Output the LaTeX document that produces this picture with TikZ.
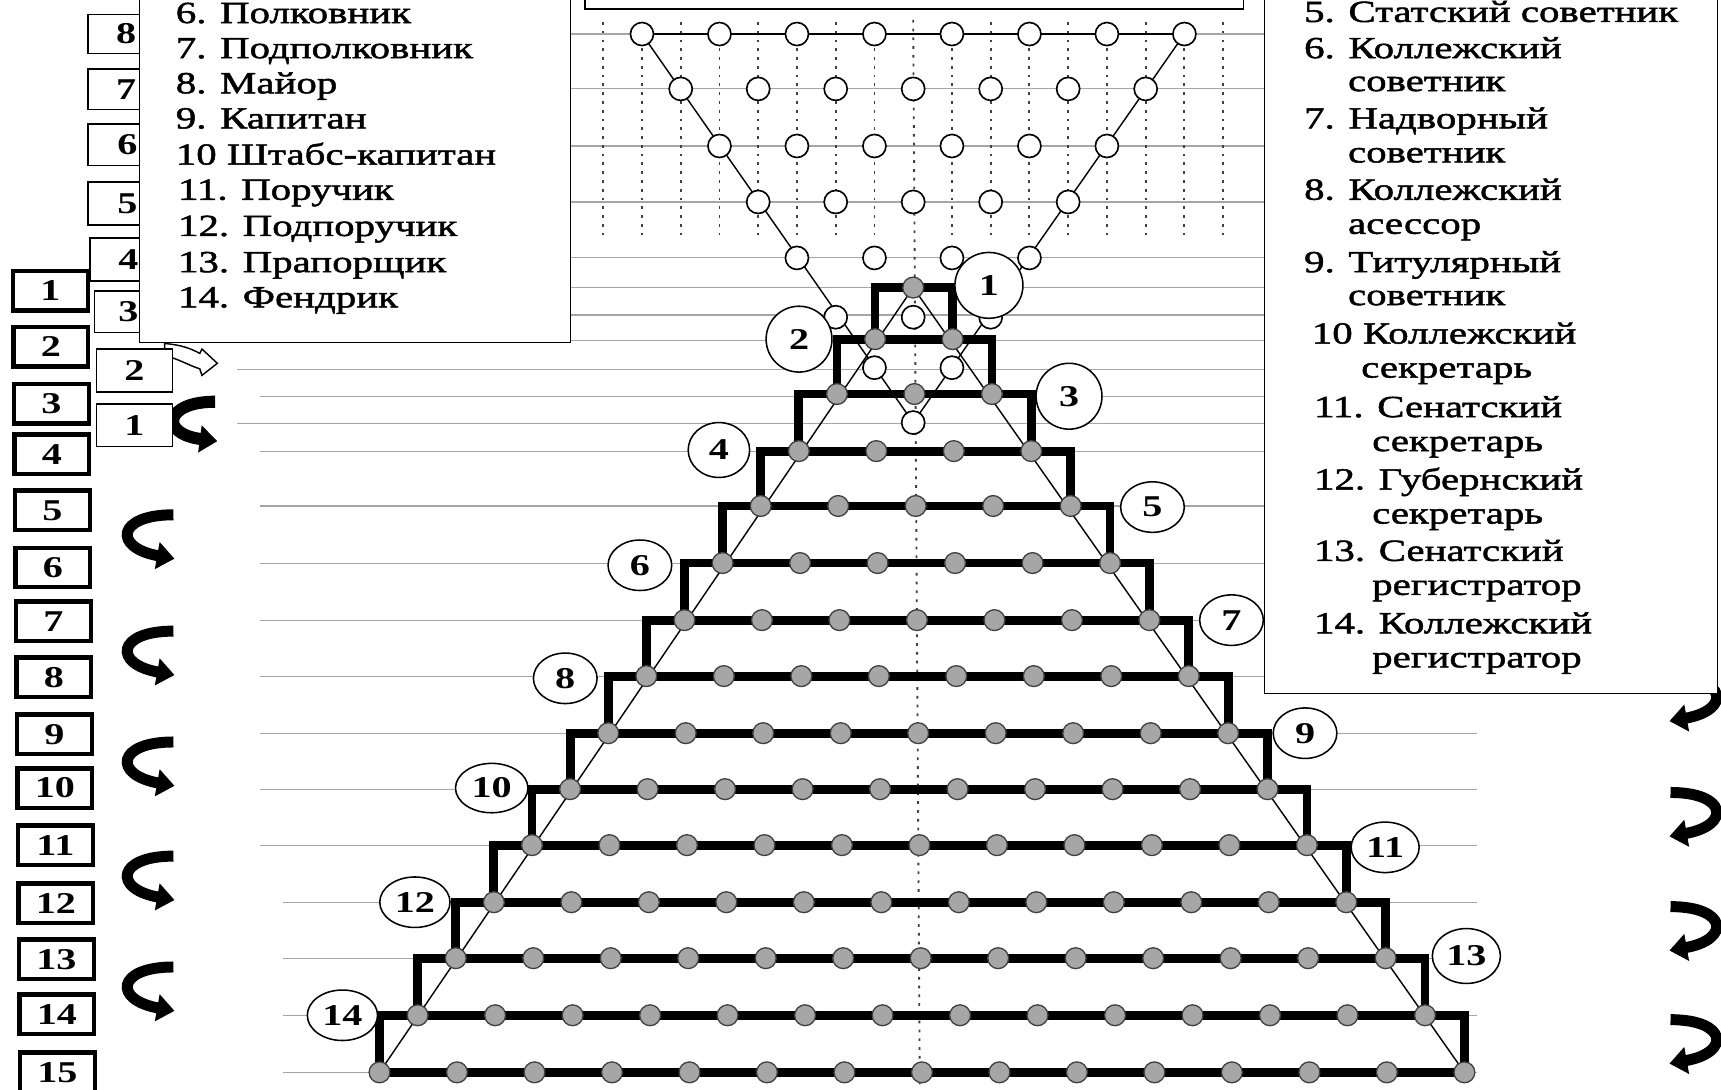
\documentclass[tikz,border=0pt]{standalone}
\usepackage{fontspec}
\setmainfont{Liberation Serif}[FakeStretch=1.33]
\newfontfamily\legfam{Liberation Serif}[FakeStretch=1.33, FakeBold=1.6]
\usetikzlibrary{arrows.meta,shapes.geometric}
\newcommand\numfont{\bfseries\fontsize{27.5}{30}\selectfont}
\newcommand\legfont{\legfam\fontsize{28}{30}\selectfont}
\begin{document}
\begin{tikzpicture}[x=1pt,y=-1pt,
  grayline/.style={black!35, line width=1},
  dotline/.style={black!75, line width=1.7, dash pattern=on 2.5pt off 5.5pt},
  thinln/.style={black, line width=1.3},
  thickln/.style={black, line width=8, line join=miter},
  opencirc/.style={circle, draw=black, fill=white, line width=1.5, minimum size=21, inner sep=0},
  graycirc/.style={circle, draw=black!75, fill=black!35, line width=1.2, minimum size=19, inner sep=0},
  lvl/.style={ellipse, draw, fill=white, line width=1.4, inner sep=0, font=\numfont},
  tbox/.style={draw, fill=white, line width=1.3, inner sep=0, font=\numfont},
  thickbox/.style={draw, fill=white, line width=4, minimum width=68, minimum height=36, inner sep=0, font=\numfont},
  legtext/.style={anchor=base west, inner sep=0, font=\legfont},
  bigarrow/.style={line width=10, -{Triangle[length=16pt,width=24pt]}},
]
\useasboundingbox (0,0) rectangle (1568,993);
\fill[white] (0,0) rectangle (1568,993);

% background gray lines
\foreach \y in {31,81,133,184,235,262,287,310} \draw[grayline] (520,\y) -- (1152,\y);
\foreach \y/\xs in {337/216,361/237,386/216} \draw[grayline] (\xs,\y) -- (1152,\y);
\foreach \y in {411,461,513,565,616} \draw[grayline] (237,\y) -- (1152,\y);
\foreach \y in {668,719,770} \draw[grayline] (237,\y) -- (1346,\y);
\foreach \y in {822,873,925,977} \draw[grayline] (258,\y) -- (1346,\y);

% dotted verticals
\foreach \m in {-8,...,-1,1,2,...,8} \draw[dotline] ({832+\m*35.3},20) -- ({832+\m*35.3},216);
\draw[dotline] (832,18) -- (838,988);

% inverted triangle lines
\coordinate (tA) at (584.9,31);
\coordinate (tB) at (1079.1,31);
\coordinate (tC) at (832,385);
\draw[thinln] (tA) -- (tB);
\draw[thinln] (tA) -- (tC) -- (tB);

% pyramid slanted lines
\coordinate (pA) at (832,262);
\coordinate (pL) at (345.8,977);
\coordinate (pR) at (1334.2,977);
\draw[thinln] (pL) -- (pA) -- (pR);

% staircase
\def\Y{{262,309,359,411,461,513,565,616,668,719,770,822,873,925,977}}
\foreach \k in {1,...,14}{
  \pgfmathsetmacro\ya{\Y[\k-1]}
  \pgfmathsetmacro\yb{\Y[\k]}
  \pgfmathsetmacro\xl{832+0.57*\k-\k*35.3}
  \pgfmathsetmacro\xr{832+0.57*\k+\k*35.3}
  \draw[thickln] (\xl,\yb) -- (\xl,\ya) -- (\xr,\ya) -- (\xr,\yb);
}
\draw[thickln, line cap=rect] (pL) -- (pR);

% gray circles
\foreach \k in {1,...,15}{
  \pgfmathsetmacro\yy{\Y[\k-1]}
  \pgfmathsetmacro\cx{832+0.57*(\k-1)}
  \foreach \j in {1,...,\k}{
    \node[graycirc] (g-\k-\j) at ({\cx+(\j-(\k+1)/2)*70.6},\yy) {};
  }
}

% open circles
\def\OY{{31,81,133,184,235,289,335,385}}
\foreach \r in {0,...,7}{
  \pgfmathtruncatemacro\n{8-\r}
  \pgfmathsetmacro\yy{\OY[\r]}
  \foreach \j in {1,...,\n}{
    \node[opencirc] (o-\r-\j) at ({832+(\j-(\n+1)/2)*70.6},\yy) {};
  }
}

% level labels
\foreach \t/\x/\y/\w/\h in {1/901/260/62/60, 2/728/309/60/60, 3/974/361/60/60,
  4/655/410/56/50, 5/1050/462/58/46, 6/583/515/58/46, 7/1122/565/58/46,
  8/515/618/58/46, 9/1189/668/58/46, 10/448/718/66/45, 11/1262/772/62/46,
  12/378/822/64/46, 13/1336/871/62/50, 14/312/925/64/46}{
  \node[lvl, minimum width=\w, minimum height=\h] (lv\t) at (\x,\y) {\t};
}

% thin boxes behind the left legend
\foreach \t/\x/\y/\w/\h in {8/115/31/70/36, 7/115/81.5/70/37, 6/116/132/72/38,
  5/116/185.5/72/39, 4/117/236.5/70/39, 3/117/284/62/38}{
  \node[tbox, minimum width=\w, minimum height=\h] (tb\t) at (\x,\y) {\t};
}

% left legend box
\draw[line width=1.3, fill=white] (127,-5) rectangle (520,312);
\foreach \t/\x/\y [count=\i] in {6. Полковник/160/21, 7. Подполковник/160/53,
  8. Майор/160/85, 9. Капитан/160/117, 10 Штабс-капитан/160/150,
  11. Поручик/162/182, 12. Подпоручик/162/215, 13. Прапорщик/162/248,
  14. Фендрик/162/280}{
  \node[legtext] (ll\i) at (\x,\y) {\t};
}

% hollow arrow of box 2
\draw[line width=1.3, fill=white] (150,313) .. controls (165,314) and (175,318) .. (182,322)
  -- (184,318) -- (198,331) -- (184,342) -- (182,336)
  .. controls (172,333) and (163,327) .. (150,324) -- cycle;
\node[tbox, minimum width=69, minimum height=39] (tb2) at (122.5,337.5) {2};

% black arrow of box 1
\begin{scope}[shift={(196,366)}]
  \draw[line width=11, -{Triangle[length=16pt,width=24pt]}] (0,0) .. controls (-46,0) and (-51,29) .. (2,36);
\end{scope}
\node[tbox, minimum width=69, minimum height=39] (tb1) at (122.5,387.5) {1};

% left column of thick boxes
\foreach \y [count=\i] in {265,316,368,414,465,517,566,617,669,718,770,823,874,924,977}{
  \node[thickbox] (b\i) at ({46+0.45*(\i-1)},\y) {\i};
}

% left curved arrows
\foreach \y in {469,575,676,780,881}{
  \begin{scope}[shift={(158,\y)}]
    \draw[bigarrow] (0,0) .. controls (-52,0) and (-55,30) .. (1,40);
  \end{scope}
}

% right curved arrows
\foreach \y in {617,722,826,929}{
  \begin{scope}[shift={(1522,\y)}, xscale=-1]
    \draw[bigarrow] (0,0) .. controls (-52,0) and (-55,30) .. (1,40);
  \end{scope}
}

% right legend box
\draw[line width=1.3, fill=white] (1152,-5) rectangle (1565,632);
\foreach \t/\x/\y [count=\i] in {5. Статский советник/1188/20, 6. Коллежский/1188/53,
  советник/1228/83, 7. Надворный/1188/117, советник/1228/148,
  8. Коллежский/1188/182, асессор/1228/213, 9. Титулярный/1188/248,
  советник/1228/278, 10 Коллежский/1195/313, секретарь/1240/344,
  11. Сенатский/1197/380, секретарь/1250/411, 12. Губернский/1197/446,
  секретарь/1250/477, 13. Сенатский/1197/511, регистратор/1250/542,
  14. Коллежский/1197/577, регистратор/1250/608}{
  \node[legtext] (rl\i) at (\x,\y) {\t};
}

% top centre box
\draw[line width=1.5, fill=white] (533,-5) rectangle (1133,8);
\end{tikzpicture}
\end{document}
